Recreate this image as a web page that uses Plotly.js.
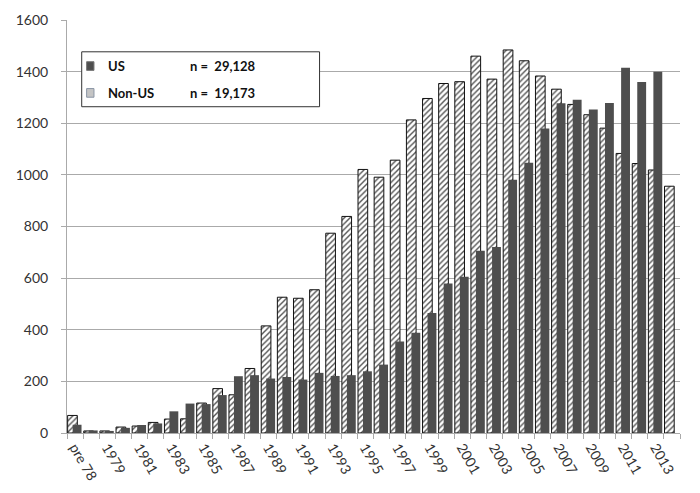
<!DOCTYPE html>
<html>
<head>
<meta charset="utf-8">
<script src="https://cdn.plot.ly/plotly-3.0.1.min.js"></script>
<style>
  html, body { margin: 0; padding: 0; background: #fff; }
  #chart { width: 700px; height: 493px; }
</style>
</head>
<body>
<div id="chart"></div>
<script>
var years = ["pre 78", "1978", "1979", "1980", "1981", "1982", "1983", "1984", "1985", "1986",
             "1987", "1988", "1989", "1990", "1991", "1992", "1993", "1994", "1995", "1996",
             "1997", "1998", "1999", "2000", "2001", "2002", "2003", "2004", "2005", "2006",
             "2007", "2008", "2009", "2010", "2011", "2012", "2013", "2014"];

// hatched bars (drawn behind)
var nonUs = [68, 8, 8, 23, 27, 41, 54, 55, 116, 172,
             148, 250, 415, 526, 522, 555, 774, 839, 1021, 991,
             1057, 1213, 1296, 1354, 1361, 1460, 1371, 1484, 1442, 1383,
             1332, 1273, 1233, 1181, 1083, 1044, 1019, 956];

// solid dark bars
var us = [32, 10, 8, 20, 31, 37, 84, 114, 112, 147,
          220, 224, 211, 217, 207, 233, 221, 224, 239, 265,
          354, 388, 465, 579, 605, 706, 721, 981, 1047, 1180,
          1277, 1291, 1253, 1278, 1415, 1360, 1400, null];

var legendNames = ["US", "Non-US"];
var legendCounts = ["n =  29,128", "n =  19,173"];

var xs = years.map(function (d, i) { return i; });
var tickIdx = xs.filter(function (i) { return i % 2 === 0; });
var tickText = tickIdx.map(function (i) { return years[i]; });
var bounds = years.concat([""]).map(function (d, i) { return i - 0.5; });

var font = "Lato, 'Open Sans', 'DejaVu Sans', sans-serif";

var traceNonUs = {
  type: "bar",
  name: "Non-US",
  x: xs,
  y: nonUs,
  offset: -0.46,
  width: 0.6,
  marker: {
    color: "#ffffff",
    line: { color: "#111111", width: 1 },
    pattern: { shape: "/", fgcolor: "#555555", bgcolor: "#ffffff", size: 4, solidity: 0.35 }
  },
  hoverinfo: "skip",
  showlegend: false
};

var traceUs = {
  type: "bar",
  name: "US",
  x: xs,
  y: us,
  offset: -0.15,
  width: 0.55,
  marker: { color: "#4e4e4e", line: { width: 0 } },
  hoverinfo: "skip",
  showlegend: false
};

// hand-drawn legend box (square keys with aligned n column)
var shapes = [
  { type: "rect", xref: "paper", yref: "paper", x0: 0.024, x1: 0.412, y0: 0.790, y1: 0.923,
    fillcolor: "#ffffff", line: { color: "#333333", width: 1 }, layer: "above" },
  { type: "rect", xref: "paper", yref: "paper", x0: 0.032, x1: 0.044, y0: 0.878, y1: 0.899,
    fillcolor: "#4e4e4e", line: { color: "#777777", width: 1 }, layer: "above" },
  { type: "rect", xref: "paper", yref: "paper", x0: 0.032, x1: 0.044, y0: 0.813, y1: 0.834,
    fillcolor: "#c4c4c4", line: { color: "#8a95a5", width: 1 }, layer: "above" }
];

var legendY = [0.889, 0.824];
var annotations = [];
legendNames.forEach(function (nm, i) {
  annotations.push({ xref: "paper", yref: "paper", x: 0.064, y: legendY[i], xanchor: "left", yanchor: "middle",
    text: "<b>" + nm + "</b>", showarrow: false, font: { family: font, size: 13, color: "#111" } });
  annotations.push({ xref: "paper", yref: "paper", x: 0.197, y: legendY[i], xanchor: "left", yanchor: "middle",
    text: "<b>" + legendCounts[i] + "</b>", showarrow: false, font: { family: font, size: 13, color: "#111" } });
});

var layout = {
  width: 700,
  height: 493,
  margin: { l: 67, r: 20, t: 20, b: 60 },
  paper_bgcolor: "#ffffff",
  plot_bgcolor: "#ffffff",
  barmode: "overlay",
  showlegend: false,
  font: { family: font, size: 13, color: "#222" },
  xaxis: {
    type: "linear",
    range: [-0.5, 37.5],
    tickmode: "array",
    tickvals: tickIdx,
    ticktext: tickText,
    tickangle: 60,
    ticks: "",
    showgrid: false,
    zeroline: false,
    showline: true,
    linecolor: "#aaaaaa",
    linewidth: 1,
    tickfont: { family: font, size: 14, color: "#333" },
    minor: { tickmode: "array", tickvals: bounds, ticks: "outside", ticklen: 5, tickcolor: "#aaaaaa", showgrid: false }
  },
  yaxis: {
    range: [0, 1600],
    dtick: 200,
    tick0: 0,
    showgrid: true,
    gridcolor: "#aaaaaa",
    gridwidth: 1,
    zeroline: false,
    showline: true,
    linecolor: "#aaaaaa",
    ticks: "outside",
    ticklen: 5,
    tickcolor: "#aaaaaa",
    ticklabelstandoff: 10,
    tickfont: { family: font, size: 14, color: "#333" }
  },
  shapes: shapes,
  annotations: annotations
};

Plotly.newPlot("chart", [traceNonUs, traceUs], layout, { staticPlot: true });
</script>
</body>
</html>
